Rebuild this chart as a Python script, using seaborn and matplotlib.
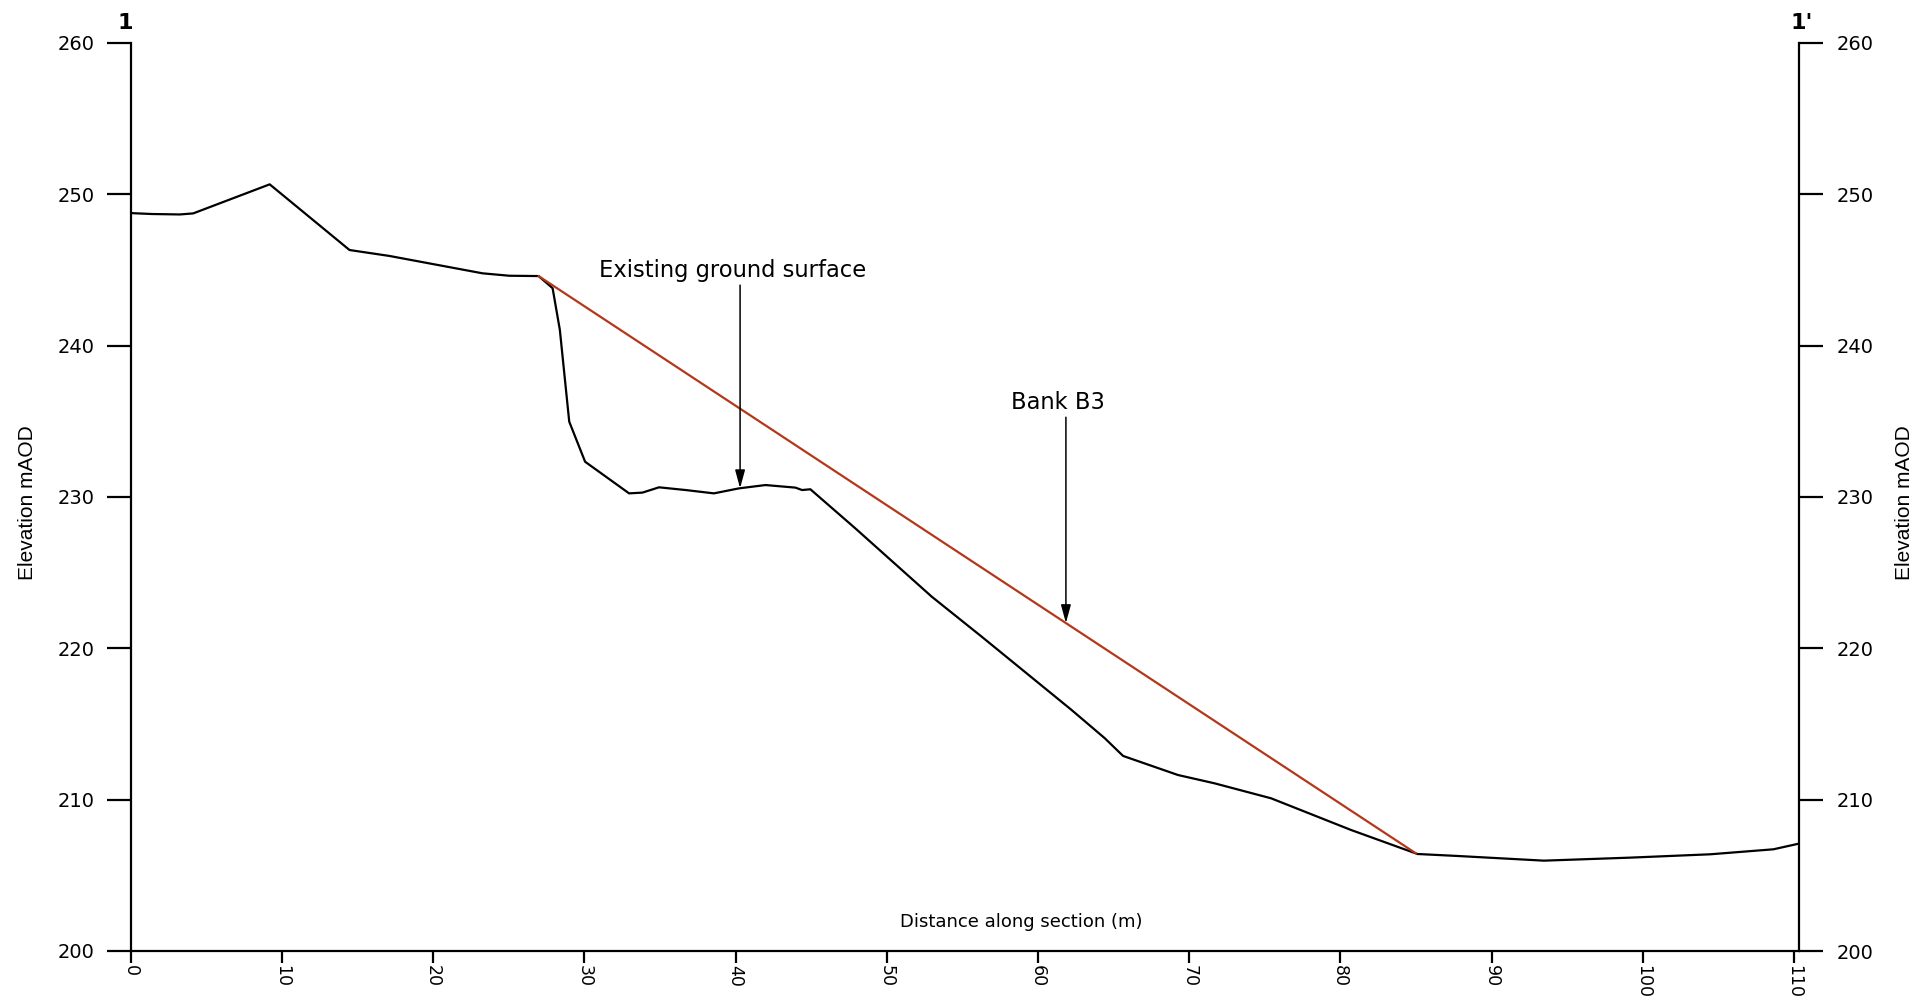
import numpy as np
import pandas as pd
import matplotlib
matplotlib.use("Agg")
import matplotlib.pyplot as plt
from matplotlib.patches import ArrowStyle
import seaborn as sns

# ---- data ----
ground_x = [0, 1.39, 3.25, 4.13, 9.19, 14.47, 17.1, 23.27, 25.04, 26.97, 27.9, 28.38,
            29.0, 30.05, 32.96, 33.84, 34.94, 36.7, 38.57, 40.22, 41.98, 43.96, 44.4,
            44.95, 47.92, 52.98, 56.28, 62.22, 64.42, 65.63, 69.26, 71.68, 75.42, 80.7,
            85.1, 87.74, 93.46, 99.18, 104.46, 108.64, 110.35]
ground_y = [248.76, 248.7, 248.67, 248.74, 250.66, 246.32, 245.93, 244.78, 244.62, 244.6,
            243.8, 241.04, 234.98, 232.33, 230.24, 230.29, 230.64, 230.46, 230.24, 230.57,
            230.79, 230.62, 230.46, 230.51, 227.93, 223.41, 220.77, 215.93, 214.06, 212.89,
            211.63, 211.08, 210.09, 208.0, 206.41, 206.28, 205.97, 206.17, 206.39, 206.72,
            207.1]
bank_x = [26.97, 85.0]
bank_y = [244.6, 206.45]

x_ticks = [0, 10, 20, 30, 40, 50, 60, 70, 80, 90, 100, 110]
y_ticks = [200, 210, 220, 230, 240, 250, 260]
x_lim = (0, 110.35)
y_lim = (200, 260)

labels = {"ground": "Existing ground surface", "bank": "Bank B3",
          "xlabel": "Distance along section (m)", "ylabel": "Elevation mAOD",
          "start": "1", "end": "1'"}

ground = pd.DataFrame({"x": ground_x, "y": ground_y})
bank = pd.DataFrame({"x": bank_x, "y": bank_y})

# ---- style ----
sns.set_style("ticks")
plt.rcParams["font.family"] = ["DejaVu Sans"]
plt.rcParams["text.color"] = "black"
plt.rcParams["axes.labelcolor"] = "black"
plt.rcParams["axes.linewidth"] = 1.6
plt.rcParams["xtick.major.width"] = 1.6
plt.rcParams["ytick.major.width"] = 1.6

fig = plt.figure(figsize=(19.2, 10), dpi=100)
ax = fig.add_axes([0.0681, 0.049, 0.8690, 0.908])

sns.lineplot(data=ground, x="x", y="y", sort=False, estimator=None, ax=ax,
             color="black", linewidth=1.6)
sns.lineplot(data=bank, x="x", y="y", sort=False, estimator=None, ax=ax,
             color="#B5371A", linewidth=1.6)

ax.set_xlim(*x_lim)
ax.set_ylim(*y_lim)
ax.set_xticks(x_ticks)
ax.set_yticks(y_ticks)
ax.set_xticklabels([str(t) for t in x_ticks], rotation=-90, fontsize=12.5)
ax.set_yticklabels([str(t) for t in y_ticks], fontsize=14)
ax.tick_params(axis="y", direction="out", length=17, pad=9, colors="black")
ax.tick_params(axis="x", direction="out", length=8.5, pad=1.5, colors="black")
for s in ("top", "right"):
    ax.spines[s].set_visible(False)
for s in ("left", "bottom"):
    ax.spines[s].set_color("black")

ax.set_xlabel(labels["xlabel"], fontsize=13, color="black")
ax.xaxis.set_label_coords(0.534, 0.032)
ax.xaxis.label.set_va("center")
ax.set_ylabel(labels["ylabel"], fontsize=15, family="Liberation Sans", color="black")
ax.yaxis.set_label_coords(-0.0621, 0.494)
ax.yaxis.label.set_va("center")

# right axis
ax2 = ax.twinx()
ax2.set_ylim(*y_lim)
ax2.set_yticks(y_ticks)
ax2.set_yticklabels([str(t) for t in y_ticks], fontsize=14)
ax2.tick_params(axis="y", direction="out", length=17, pad=10, colors="black")
for s in ("top", "left", "bottom"):
    ax2.spines[s].set_visible(False)
ax2.spines["right"].set_color("black")
ax2.set_ylabel(labels["ylabel"], fontsize=15, family="Liberation Sans", rotation=90,
               color="black")
ax2.yaxis.set_label_coords(1.0633, 0.494)
ax2.yaxis.label.set_va("center")

# section end markers
ax.text(-0.0034, 1.022, labels["start"], transform=ax.transAxes, ha="center",
        va="center", fontsize=16, fontweight="bold", color="black")
ax.text(1.0016, 1.022, labels["end"], transform=ax.transAxes, ha="center",
        va="center", fontsize=16, fontweight="bold", color="black")

# annotations
astyle = ArrowStyle("-|>", head_length=0.55, head_width=0.15)
ax.text(39.83, 244.97, labels["ground"], ha="center", va="center", fontsize=16.3,
        color="black")
gx = 40.3
ax.annotate("", xy=(gx, np.interp(gx, ground_x, ground_y)), xytext=(gx, 244.0),
            arrowprops=dict(arrowstyle=astyle, mutation_scale=20, color="black",
                            lw=1.1, shrinkA=0, shrinkB=0))
ax.text(61.32, 236.25, labels["bank"], ha="center", va="center", fontsize=16.3,
        color="black")
bx = 61.85
ax.annotate("", xy=(bx, np.interp(bx, bank_x, bank_y)), xytext=(bx, 235.27),
            arrowprops=dict(arrowstyle=astyle, mutation_scale=20, color="black",
                            lw=1.1, shrinkA=0, shrinkB=0))

fig.savefig("out.png", dpi=100)
